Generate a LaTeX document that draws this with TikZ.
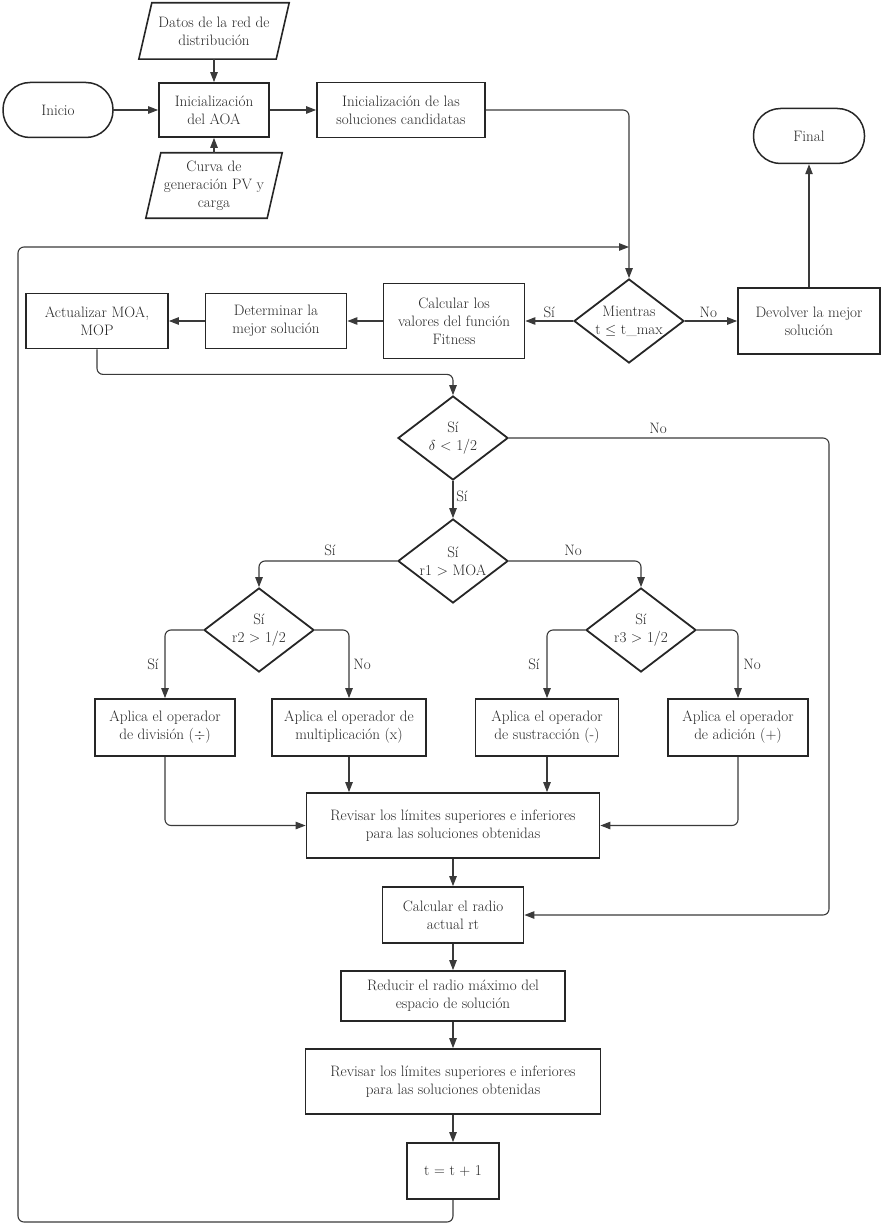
\documentclass[tikz,border=0pt]{standalone}
\usetikzlibrary{arrows.meta,shapes.geometric,calc}
\definecolor{ink}{HTML}{262626}
\definecolor{wire}{HTML}{3A3A3A}
\begin{document}
\begin{tikzpicture}[x=1pt,y=-1pt,
  font=\fontsize{15.1}{18}\selectfont,
  every node/.style={text=ink},
  procbox/.style={rectangle, draw=ink, line width=1.8pt, align=center, inner sep=2pt},
  term/.style={rectangle, draw=ink, line width=1.5pt, rounded corners=27pt, align=center, minimum width=110pt, minimum height=55pt},
  dec/.style={diamond, draw=ink, line width=1.8pt, align=center, inner sep=-1pt, shape aspect=1.31, minimum width=110pt, minimum height=84pt},
  iotext/.style={align=center, inner sep=0pt},
  ioborder/.style={draw=ink, line width=1.6pt, line join=miter},
  conn/.style={draw=wire, line width=1.1pt, -{Triangle[length=10pt,width=7.5pt]}, rounded corners=6pt},
  lab/.style={inner sep=1pt}
]
\useasboundingbox (0,0) rectangle (885,1225);

% top row
\node[term] (inicio) at (58,110) {Inicio};
\node[procbox, minimum width=110pt, minimum height=54pt] (ini) at (214,110) {Inicialización\\del AOA};
\node[procbox, minimum width=168pt, minimum height=55pt] (cand) at (401,110) {Inicialización de las\\soluciones candidatas};

\node[iotext, minimum width=150pt, minimum height=56pt] (datos) at (214,31) {Datos de la red de\\distribución};
\draw[ioborder] (datos.south west) -- ([xshift=-13pt]datos.south east) -- (datos.north east) -- ([xshift=13pt]datos.north west) -- cycle;

\node[iotext, minimum width=136pt, minimum height=65pt] (curva) at (214,185.5) {Curva de\\generación PV y\\carga};
\draw[ioborder] (curva.south west) -- ([xshift=-15pt]curva.south east) -- (curva.north east) -- ([xshift=15pt]curva.north west) -- cycle;

\node[term, minimum width=111pt] (final) at (809,136) {Final};

% second row
\node[dec] (mientras) at (629,321) {Mientras\\t $\leq$ t\_max};
\node[procbox, minimum width=142pt, minimum height=66pt] (devolver) at (809,321) {Devolver la mejor\\solución};
\node[procbox, minimum width=141pt, minimum height=75pt] (fitness) at (454,321) {Calcular los\\valores del función\\Fitness};
\node[procbox, minimum width=141pt, minimum height=55pt] (mejor) at (276,321) {Determinar la\\mejor solución};
\node[procbox, minimum width=142pt, minimum height=55pt] (act) at (97,321) {Actualizar MOA,\\MOP};

% decisions
\node[dec] (delta) at (453,438) {Sí\\$\delta$ < 1/2};
\node[dec] (r1) at (453,561) {Sí\\r1 > MOA};
\node[dec] (r2) at (259,630) {Sí\\r2 > 1/2};
\node[dec] (r3) at (641,630) {Sí\\r3 > 1/2};

% operators
\node[procbox, minimum width=140pt, minimum height=57pt] (div) at (165,727.5) {Aplica el operador\\de división ($\div$)};
\node[procbox, minimum width=154pt, minimum height=57pt] (mul) at (349,727.5) {Aplica el operador de\\multiplicación (x)};
\node[procbox, minimum width=143pt, minimum height=57pt] (sub) at (547,727.5) {Aplica el operador\\de sustracción (-)};
\node[procbox, minimum width=140pt, minimum height=57pt] (add) at (738,727.5) {Aplica el operador\\de adición (+)};

% lower column
\node[procbox, minimum width=293pt, minimum height=65pt] (rev1) at (453,825.5) {Revisar los límites superiores e inferiores\\para las soluciones obtenidas};
\node[procbox, minimum width=141pt, minimum height=56pt] (radio) at (453,915) {Calcular el radio\\actual rt};
\node[procbox, minimum width=224pt, minimum height=50pt] (red) at (453,996) {Reducir el radio máximo del\\espacio de solución};
\node[procbox, minimum width=295pt, minimum height=65pt] (rev2) at (453,1081.5) {Revisar los límites superiores e inferiores\\para las soluciones obtenidas};
\node[procbox, minimum width=92pt, minimum height=56pt] (tinc) at (453,1171) {t = t + 1};

% helper coordinates
\coordinate (lb) at (18,1222);
\coordinate (lt) at (18,247);
\coordinate (loopin) at (629,247);
\coordinate (rc) at (829,0);

% connectors top
\draw[conn] (inicio.east) -- (ini.west);
\draw[conn] (datos.south) -- (ini.north);
\draw[conn] (curva.north) -- (ini.south);
\draw[conn] (ini.east) -- (cand.west);
\draw[conn] (cand.east) -| (mientras.north);
\draw[conn] (tinc.south) |- (lb) -- (lt) -- (loopin);

\draw[conn] (mientras.west) -- (fitness.east) node[lab, pos=0.5, above=2pt] (ls1) {Sí};
\draw[conn] (mientras.east) -- (devolver.west) node[lab, pos=0.45, above=2pt] (ln1) {No};
\draw[conn] (devolver.north) -- (final.south);
\draw[conn] (fitness.west) -- (mejor.east);
\draw[conn] (mejor.west) -- (act.east);
\draw[conn] (act.south) -- ++(0,25) -| (delta.north);

\draw[conn] (delta.east) -| (rc |- radio.east) -- (radio.east);
\node[lab] (ln2) at (658,428) {No};
\draw[conn] (delta.south) -- (r1.north);
\node[lab] (ls2) at (462,496) {Sí};

\draw[conn] (r1.west) -| (r2.north);
\node[lab] (ls3) at (330,550) {Sí};
\draw[conn] (r1.east) -| (r3.north);
\node[lab] (ln3) at (573,550) {No};

\draw[conn] (r2.west) -| (div.north);
\node[lab] (ls4) at (153,664) {Sí};
\draw[conn] (r2.east) -| (mul.north);
\node[lab] (ln4) at (362,664) {No};
\draw[conn] (r3.west) -| (sub.north);
\node[lab] (ls5) at (534,664) {Sí};
\draw[conn] (r3.east) -| (add.north);
\node[lab] (ln5) at (752,664) {No};

\draw[conn] (div.south) |- (rev1.west);
\draw[conn] (mul.south) -- (mul.south |- rev1.north);
\draw[conn] (sub.south) -- (sub.south |- rev1.north);
\draw[conn] (add.south) |- (rev1.east);

\draw[conn] (rev1.south) -- (radio.north);
\draw[conn] (radio.south) -- (red.north);
\draw[conn] (red.south) -- (rev2.north);
\draw[conn] (rev2.south) -- (tinc.north);
\end{tikzpicture}
\end{document}
